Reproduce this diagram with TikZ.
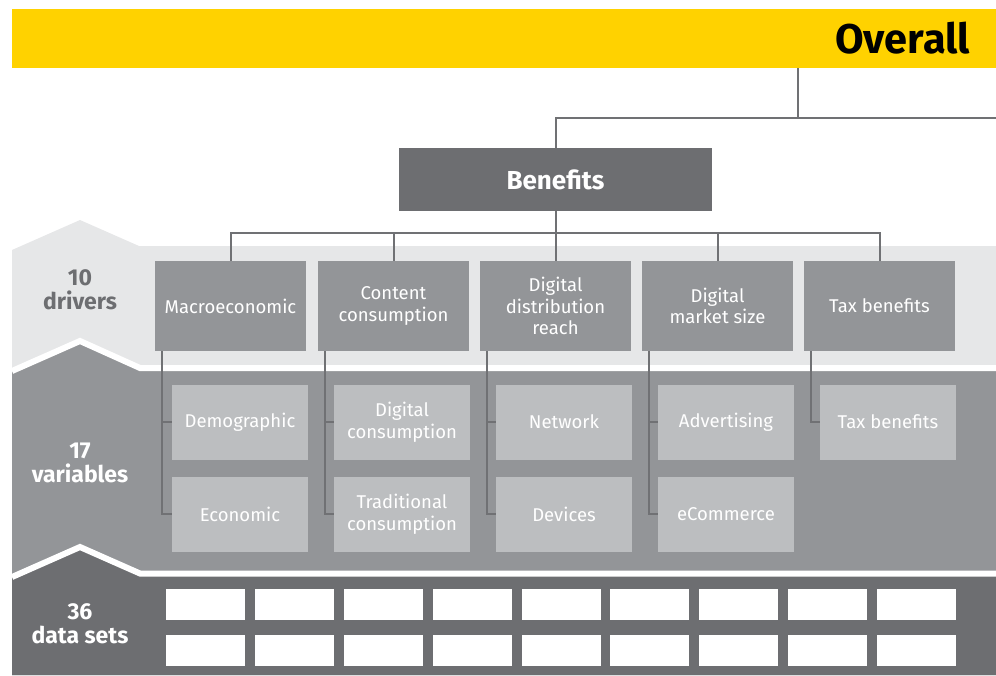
\documentclass[tikz,border=0pt]{standalone}
\usepackage{fontspec}
\setmainfont{Fira Sans}
\usetikzlibrary{positioning}
\definecolor{eyyellow}{HTML}{FFD200}
\definecolor{darkgrey}{HTML}{6D6E71}
\definecolor{midgrey}{HTML}{939598}
\definecolor{lightgrey}{HTML}{BCBEC0}
\definecolor{palegrey}{HTML}{E6E7E8}
\definecolor{linegrey}{HTML}{707174}
\tikzstyle{banner} = [fill=eyyellow, rectangle, minimum width=984pt, minimum height=59pt,
    text width=932pt, inner xsep=26pt, inner ysep=0pt, align=right,
    font=\bfseries\fontsize{41.5}{41.5}\selectfont]
\tikzstyle{pillar} = [fill=darkgrey, rectangle, text=white, minimum width=313pt,
    minimum height=63pt, inner sep=0pt, font=\bfseries\fontsize{26}{26}\selectfont]
\tikzstyle{driverbox} = [fill=midgrey, rectangle, text=white, minimum width=151pt,
    minimum height=90pt, inner sep=0pt, align=center, font=\fontsize{18.5}{21.5}\selectfont]
\tikzstyle{varbox} = [fill=lightgrey, rectangle, text=white, minimum width=136pt,
    minimum height=75pt, inner sep=0pt, align=center, font=\fontsize{18.5}{21.5}\selectfont]
\tikzstyle{databox} = [fill=white, rectangle, minimum width=79pt, minimum height=31pt, inner sep=0pt]
\tikzstyle{tally} = [align=center, font=\bfseries\fontsize{23}{24}\selectfont]
\tikzstyle{link} = [draw=linegrey, line width=2pt]
\tikzstyle{gapline} = [draw=white, line width=6pt]

\begin{document}
\begin{tikzpicture}[x=1pt, y=-1pt]
    \useasboundingbox (0,0) rectangle (996,675);
    % bands
    \fill [palegrey] (12,250) -- (80,220) -- (139,246) -- (996,246) -- (996,675) -- (12,675) -- cycle;
    \fill [midgrey] (12,371) -- (80,341) -- (140,368) -- (996,368) -- (996,675) -- (12,675) -- cycle;
    \draw [gapline] (12,371) -- (80,341) -- (140,368) -- (996,368);
    \fill [darkgrey] (12,577) -- (80,547) -- (140,573.5) -- (996,573.5) -- (996,675) -- (12,675) -- cycle;
    \draw [gapline] (12,577) -- (80,547) -- (140,573.5) -- (996,573.5);
    \node [tally, text=darkgrey] (ndrivers) at (80,290) {10\\drivers};
    \node [tally, text=white] (nvariables) at (80,463) {17\\variables};
    \node [tally, text=white] (ndatasets) at (80,624) {36\\data sets};
    % top
    \node [banner] (overall) at (504,38.5) {Overall};
    \node [pillar] (benefits) at (555.5,179.5) {Benefits};
    \coordinate (split) at (798,118);
    \coordinate (edge) at (996,118);
    \coordinate (bus) at (555.5,233);
    % drivers
    \node [driverbox] (macro) at (230.5,306) {Macroeconomic};
    \node [driverbox] (content) at (393.5,306) {Content\\consumption};
    \node [driverbox] (distrib) at (555.5,306) {Digital\\distribution\\reach};
    \node [driverbox] (market) at (717.5,306) {Digital\\market size};
    \node [driverbox] (tax) at (879.5,306) {Tax benefits};
    % variables
    \node [varbox] (demog) at (240,422) {Demographic};
    \node [varbox] (econ) at (240,514) {Economic};
    \node [varbox] (digcons) at (402,422) {Digital\\consumption};
    \node [varbox] (tradcons) at (402,514) {Traditional\\consumption};
    \node [varbox] (network) at (564,422) {Network};
    \node [varbox] (devices) at (564,514) {Devices};
    \node [varbox] (advert) at (726,422) {Advertising};
    \node [varbox] (ecomm) at (726,514) {eCommerce};
    \node [varbox] (taxv) at (888,422) {Tax benefits};
    % data sets
    \node [databox] (d1) at (205.5,604) {};
    \node [databox] (d2) at (294.4,604) {};
    \node [databox] (d3) at (383.3,604) {};
    \node [databox] (d4) at (472.1,604) {};
    \node [databox] (d5) at (561,604) {};
    \node [databox] (d6) at (649.9,604) {};
    \node [databox] (d7) at (738.8,604) {};
    \node [databox] (d8) at (827.6,604) {};
    \node [databox] (d9) at (916.5,604) {};
    \node [databox] (d10) at (205.5,650.5) {};
    \node [databox] (d11) at (294.4,650.5) {};
    \node [databox] (d12) at (383.3,650.5) {};
    \node [databox] (d13) at (472.1,650.5) {};
    \node [databox] (d14) at (561,650.5) {};
    \node [databox] (d15) at (649.9,650.5) {};
    \node [databox] (d16) at (738.8,650.5) {};
    \node [databox] (d17) at (827.6,650.5) {};
    \node [databox] (d18) at (916.5,650.5) {};
    % connectors
    \draw [link] (overall.south -| split) -- (split);
    \draw [link] (benefits.north) |- (edge);
    \draw [link] (benefits.south) -- (bus);
    \draw [link] (bus) -| (macro.north);
    \draw [link] (bus) -| (content.north);
    \draw [link] (bus) -- (distrib.north);
    \draw [link] (bus) -| (market.north);
    \draw [link] (bus) -| (tax.north);
    \draw [link] ([xshift=7pt]macro.south west) |- (demog.west);
    \draw [link] ([xshift=7pt]macro.south west) |- (econ.west);
    \draw [link] ([xshift=7pt]content.south west) |- (digcons.west);
    \draw [link] ([xshift=7pt]content.south west) |- (tradcons.west);
    \draw [link] ([xshift=7pt]distrib.south west) |- (network.west);
    \draw [link] ([xshift=7pt]distrib.south west) |- (devices.west);
    \draw [link] ([xshift=7pt]market.south west) |- (advert.west);
    \draw [link] ([xshift=7pt]market.south west) |- (ecomm.west);
    \draw [link] ([xshift=7pt]tax.south west) |- (taxv.west);
\end{tikzpicture}
\end{document}
